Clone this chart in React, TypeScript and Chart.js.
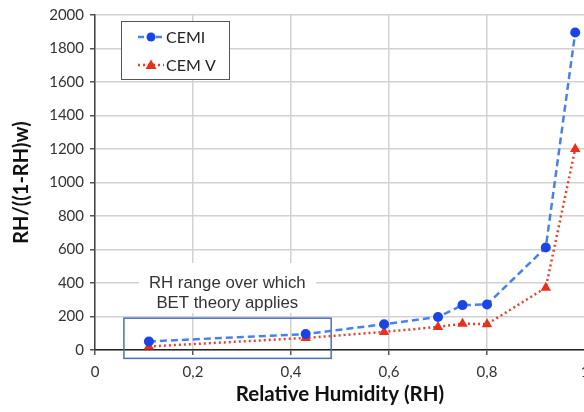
import React, { useEffect, useRef } from 'react';
import { Chart, registerables } from 'chart.js';

Chart.register(...registerables);

const rhValues = [0.11, 0.43, 0.59, 0.70, 0.75, 0.80, 0.92, 0.98];
const cemiValues = [51, 95, 154, 197, 268, 272, 612, 1895];
const cemVValues = [21, 72, 108, 138, 157, 154, 372, 1200];
const xTickLabels = ['0', '0,2', '0,4', '0,6', '0,8', '1'];
const seriesNames = ['CEMI', 'CEM V'];
const noteLines = ['RH range over which', 'BET theory applies'];
const noteRangeX = [0.059, 0.482];
const noteRangeY = [-50, 190];
const noteTextX = 0.27;

const BLUE_LINE = '#4a80ee';
const BLUE_PT = '#1a45e6';
const RED_LINE = '#e8402c';
const RED_PT = '#e8301c';
const TICK_FONT = { family: 'Lato', size: 15 };

const notePlugin = {
  id: 'notePlugin',
  beforeDatasetsDraw(chart: any) {
    const { ctx, scales } = chart;
    const xs = scales.x;
    const ys = scales.y;
    ctx.save();
    ctx.font = '16.8px "Liberation Sans", Arial, sans-serif';
    const cx = xs.getPixelForValue(noteTextX);
    const l1 = ys.getPixelForValue(0) - 67;
    const lh = 20;
    let w = 0;
    noteLines.forEach((t) => { w = Math.max(w, ctx.measureText(t).width); });
    ctx.fillStyle = '#ffffff';
    ctx.fillRect(cx - w / 2 - 10, l1 - 20, w + 20, lh * noteLines.length + 10);
    ctx.fillStyle = '#333333';
    ctx.textAlign = 'center';
    ctx.textBaseline = 'middle';
    noteLines.forEach((t, i) => ctx.fillText(t, cx, l1 + i * lh));
    const x0 = xs.getPixelForValue(noteRangeX[0]);
    const x1 = xs.getPixelForValue(noteRangeX[1]);
    const y0 = ys.getPixelForValue(noteRangeY[1]);
    const y1 = ys.getPixelForValue(noteRangeY[0]);
    ctx.strokeStyle = '#4a6fbf';
    ctx.lineWidth = 1.5;
    ctx.strokeRect(x0, y0, x1 - x0, y1 - y0);
    ctx.restore();
  },
};

const legendPlugin = {
  id: 'boxLegend',
  afterDraw(chart: any) {
    const { ctx } = chart;
    const bx = 121, by = 21, bw = 108, bh = 58;
    ctx.save();
    ctx.fillStyle = '#ffffff';
    ctx.fillRect(bx, by, bw, bh);
    ctx.strokeStyle = '#555555';
    ctx.lineWidth = 1;
    ctx.strokeRect(bx + 0.5, by + 0.5, bw, bh);
    const rows = [
      { y: 37, line: BLUE_LINE, pt: BLUE_PT, dash: [6, 3], shape: 'circle' },
      { y: 65, line: RED_LINE, pt: RED_PT, dash: [2, 3], shape: 'triangle' },
    ];
    rows.forEach((r, i) => {
      ctx.strokeStyle = r.line;
      ctx.lineWidth = 2.5;
      ctx.setLineDash(r.dash);
      ctx.beginPath();
      ctx.moveTo(138, r.y);
      ctx.lineTo(164, r.y);
      ctx.stroke();
      ctx.setLineDash([]);
      ctx.fillStyle = r.pt;
      ctx.beginPath();
      if (r.shape === 'circle') {
        ctx.arc(151, r.y, 4.5, 0, Math.PI * 2);
      } else {
        ctx.moveTo(151, r.y - 5.5);
        ctx.lineTo(156.5, r.y + 4);
        ctx.lineTo(145.5, r.y + 4);
        ctx.closePath();
      }
      ctx.fill();
      ctx.fillStyle = '#222222';
      ctx.font = '16px Lato';
      ctx.textAlign = 'left';
      ctx.textBaseline = 'middle';
      ctx.fillText(seriesNames[i], 166, r.y + 1);
    });
    ctx.restore();
  },
};

export default function App() {
  const ref = useRef<HTMLCanvasElement>(null);
  useEffect(() => {
    if (!ref.current) return;
    const chart = new Chart(ref.current, {
      type: 'line',
      data: {
        datasets: [
          {
            label: seriesNames[0],
            data: rhValues.map((x, i) => ({ x, y: cemiValues[i] })),
            borderColor: BLUE_LINE,
            borderWidth: 2.5,
            borderDash: [7, 4],
            pointStyle: 'circle',
            pointRadius: 5,
            pointBackgroundColor: BLUE_PT,
            pointBorderColor: BLUE_PT,
            pointBorderWidth: 0,
            tension: 0,
          },
          {
            label: seriesNames[1],
            data: rhValues.map((x, i) => ({ x, y: cemVValues[i] })),
            borderColor: RED_LINE,
            borderWidth: 2.5,
            borderDash: [2, 3],
            pointStyle: 'triangle',
            pointRadius: 6,
            pointBackgroundColor: RED_PT,
            pointBorderColor: RED_PT,
            pointBorderWidth: 0,
            tension: 0,
          },
        ],
      },
      options: {
        animation: false,
        responsive: false,
        clip: false as any,
        layout: { padding: { top: 12, right: 15, left: 0, bottom: 0 } },
        plugins: { legend: { display: false }, tooltip: { enabled: false } },
        scales: {
          x: {
            type: 'linear',
            min: 0,
            max: 1,
            ticks: {
              stepSize: 0.2,
              font: TICK_FONT,
              color: '#333',
              padding: 8,
              maxRotation: 0,
              callback: (v: any) => xTickLabels[Math.round(Number(v) * 5)],
            },
            grid: { color: '#d2d2d2', lineWidth: 1.5, tickLength: 5, tickColor: '#555' },
            border: { color: '#222', width: 1.5 },
            title: {
              display: true,
              text: 'Relative Humidity (RH)',
              font: { family: 'Lato', size: 20.5, weight: 'bold' },
              color: '#111',
              padding: { top: 0, bottom: 5 },
            },
            afterFit: (s: any) => { s.height = 62; },
          },
          y: {
            min: 0,
            max: 2000,
            ticks: {
              stepSize: 200,
              font: TICK_FONT,
              color: '#333',
              padding: 6,
              callback: (v: any) => String(v),
            },
            grid: { color: '#d2d2d2', lineWidth: 1.5, tickLength: 5, tickColor: '#555' },
            border: { color: '#444', width: 1.5 },
            title: {
              display: true,
              text: 'RH/((1-RH)w)',
              font: { family: 'Lato', size: 20, weight: 'bold' },
              color: '#111',
              padding: { top: 10, bottom: 0 },
            },
            afterFit: (s: any) => { s.width = 95; },
          },
        },
      },
      plugins: [notePlugin, legendPlugin],
    });
    return () => chart.destroy();
  }, []);
  return (
    <div style={{ position: 'fixed', left: 0, top: 0, width: 584, height: 412, overflow: 'hidden', background: '#fff' }}>
      <canvas ref={ref} width={600} height={412} style={{ display: 'block', width: 600, height: 412 }} />
    </div>
  );
}
